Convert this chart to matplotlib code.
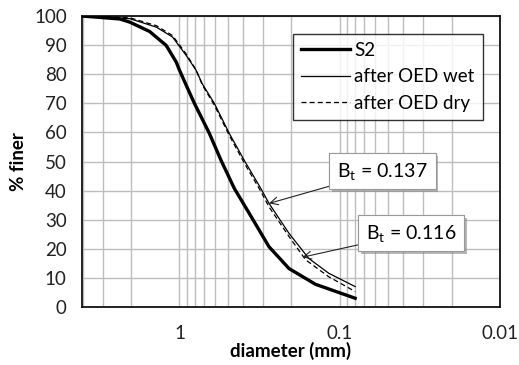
import matplotlib
matplotlib.use("Agg")
import matplotlib.pyplot as plt
import matplotlib.patheffects as pe
from matplotlib.ticker import FixedLocator, NullFormatter, LogLocator

plt.rcParams['font.family'] = ['Lato', 'DejaVu Sans']
plt.rcParams['mathtext.fontset'] = 'custom'
plt.rcParams['mathtext.rm'] = 'Lato'
plt.rcParams['mathtext.it'] = 'Lato'

# grading curves (diameter in mm, % finer)
d_s2 = [4.06, 3.62, 2.36, 2.04, 1.536, 1.21, 1.048, 1.0, 0.909, 0.807, 0.651,
        0.551, 0.455, 0.367, 0.276, 0.207, 0.1416, 0.08]
p_s2 = [100, 99.8, 99.0, 97.9, 94.7, 89.9, 84.2, 81.4, 76.3, 70.0, 59.7,
        50.5, 40.8, 32.2, 20.7, 13.2, 7.8, 3.0]

d_wet = [4.06, 3.14, 2.04, 1.395, 1.105, 0.909, 0.788, 0.72, 0.606, 0.489,
         0.395, 0.311, 0.276, 0.207, 0.156, 0.117, 0.08]
p_wet = [100, 99.8, 99.1, 96.2, 92.8, 86.5, 81.4, 76.7, 70.0, 59.7,
         50.5, 40.8, 35.6, 25.3, 16.7, 11.6, 7.0]

d_dry = [4.06, 3.14, 2.04, 1.395, 1.105, 0.909, 0.788, 0.72, 0.606, 0.489,
         0.395, 0.311, 0.276, 0.207, 0.163, 0.117, 0.08]
p_dry = [100, 99.9, 99.4, 96.7, 93.3, 87.0, 81.5, 76.3, 69.4, 59.0,
         49.6, 39.8, 34.4, 24.2, 16.2, 10.4, 5.3]

# annotations: (label, arrow tip, box centre)
notes = [
    (r'B$_\mathrm{t}$ = 0.137', (0.276, 35.6), (0.054, 46.7)),
    (r'B$_\mathrm{t}$ = 0.116', (0.171, 17.1), (0.0357, 25.4)),
]

fig = plt.figure(figsize=(5.19, 3.65), dpi=100)
ax = fig.add_axes([0.158, 0.159, 0.805, 0.797])

ax.plot(d_s2, p_s2, color='black', lw=2.4, label='S2', zorder=3)
ax.plot(d_wet, p_wet, color='black', lw=0.9, label='after OED wet', zorder=3)
ax.plot(d_dry, p_dry, color='black', lw=0.9, ls=(0, (4, 2.5)), label='after OED dry', zorder=3)

ax.set_xscale('log')
ax.set_xlim(4.06, 0.01)
ax.set_ylim(0, 100)
ax.xaxis.set_major_locator(FixedLocator([1, 0.1, 0.01]))
ax.xaxis.set_major_formatter(plt.FuncFormatter(lambda v, _: f'{v:g}'))
ax.xaxis.set_minor_locator(LogLocator(base=10, subs=range(2, 10)))
ax.xaxis.set_minor_formatter(NullFormatter())
ax.set_yticks(range(0, 101, 10))

ax.grid(True, which='both', axis='x', color='#bdbdbd', lw=1)
ax.grid(True, which='major', axis='y', color='#bdbdbd', lw=1)
ax.set_axisbelow(True)
ax.tick_params(which='both', length=0, labelsize=13.5, colors='#222222')
ax.tick_params(axis='x', pad=13)
ax.tick_params(axis='y', pad=11)
for s in ax.spines.values():
    s.set_linewidth(1.3)
    s.set_color('#111111')

ax.set_xlabel('diameter (mm)', fontsize=13.5, fontweight='bold', labelpad=0)
ax.set_ylabel('% finer', fontsize=13.5, fontweight='bold', labelpad=5)

leg = ax.legend(loc='upper right', bbox_to_anchor=(0.96, 0.94), fontsize=13.5,
                frameon=True, fancybox=False, edgecolor='black', handlelength=2.6,
                handletextpad=0.25, borderpad=0.45, labelspacing=0.5, borderaxespad=0)
leg.get_frame().set_linewidth(1.0)

for label, tip, box in notes:
    t = ax.annotate(label, xy=tip, xytext=box, fontsize=14, ha='center', va='center',
                    bbox=dict(boxstyle='square,pad=0.4', fc='white', ec='#999999', lw=0.8),
                    arrowprops=dict(arrowstyle='->', color='#222222', lw=0.8,
                                    mutation_scale=14, shrinkA=0, shrinkB=0),
                    zorder=5)
    t.get_bbox_patch().set_path_effects([
        pe.withSimplePatchShadow(offset=(2, -2), shadow_rgbFace='#888888', alpha=0.6),
        pe.Normal()])

fig.savefig('out.png', dpi=100)
